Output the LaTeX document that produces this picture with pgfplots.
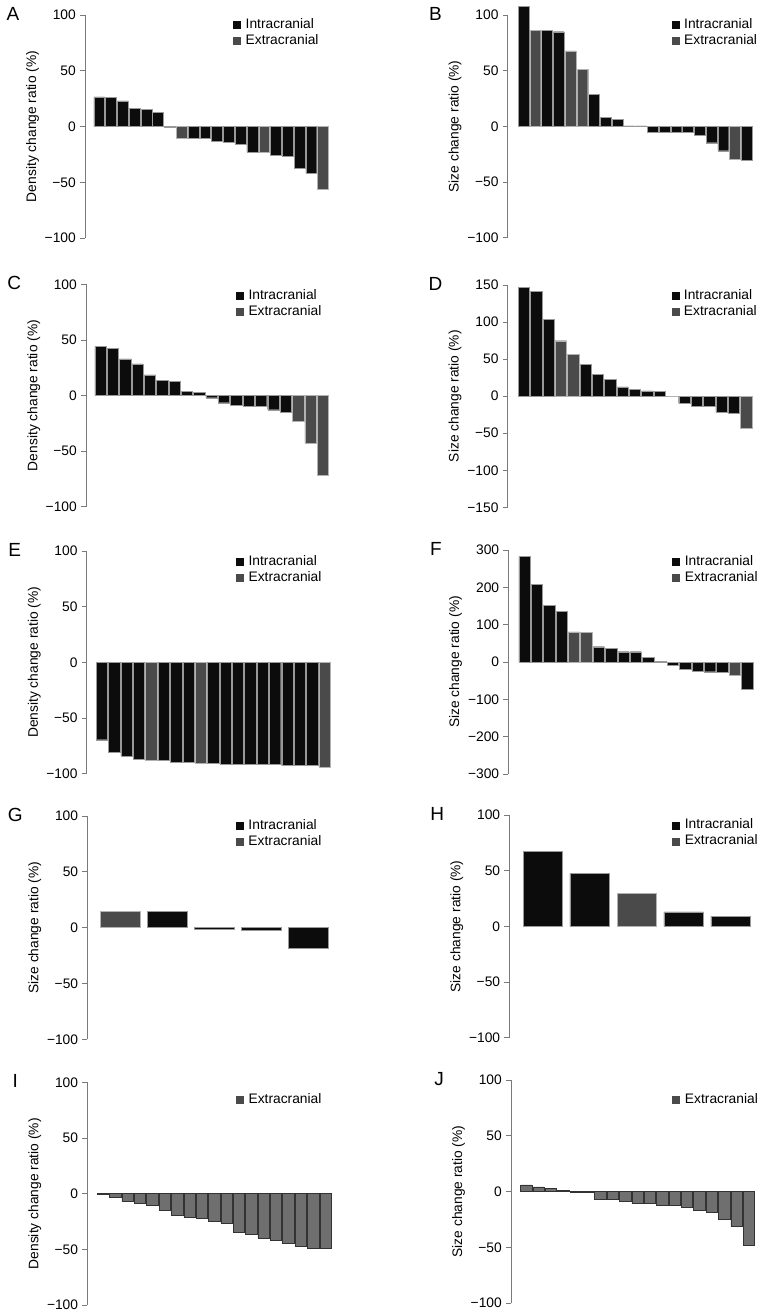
\documentclass[border=0pt]{standalone}
\usepackage{fontspec}
\setmainfont{Liberation Sans}
\usepackage{pgfplots}
\pgfplotsset{compat=1.18}
\definecolor{intra}{HTML}{0C0C0C}
\definecolor{extra}{HTML}{4A4A4A}
\definecolor{extraL}{HTML}{6F6F6F}
\definecolor{axgray}{HTML}{7A7A7A}
\newcommand\legin{\fill[intra] (0pt,-3.5pt) rectangle (7pt,3.5pt);}
\newcommand\legex{\fill[extra] (0pt,-3.5pt) rectangle (7pt,3.5pt);}
\newcommand\fnt{\fontsize{13.8}{15}\selectfont}
\pgfplotsset{
 panel/.style={
   scale only axis,
   height=223pt,
   axis x line=none,
   axis y line=left,
   axis line style={-, axgray, line width=0.8pt},
   ytick style={axgray, line width=0.8pt},
   tick align=outside,
   major tick length=5pt,
   ymin=-100, ymax=100,
   ytick={-100,-50,0,50,100},
   yticklabels={−100,−50,0,50,100},
   yticklabel style={font=\fnt, inner sep=0pt, xshift=-4pt},
   ylabel style={font=\fnt, at={(axis description cs:-0.215,0.5)}, anchor=center},
   ybar, bar width=0.92, bar shift=0pt,
   clip=false,
   legend cell align=left,
   legend style={draw=none, fill=none, inner sep=0pt, anchor=north west, font=\fnt,
     nodes={text height=10pt, text depth=3pt, inner sep=1.5pt}, row sep=0pt, column sep=3.5pt},
 },
 lin/.style={fill=intra, draw=black!40, line width=0.4pt, legend image code/.code={\legin}},
 lex/.style={fill=extra, draw=black!30, line width=0.4pt, legend image code/.code={\legex}},
 lexl/.style={fill=extraL, draw=black!80, line width=0.5pt, legend image code/.code={\legex}},
}
\newcommand\lett[1]{\node[font=\fontsize{19}{20}\selectfont, anchor=center] at (axis description cs:-0.295,1.005) {#1};}
\begin{document}
\begin{tikzpicture}
\useasboundingbox (0,0) rectangle (765pt,-1315pt);
% A
\begin{axis}[panel, at={(85pt,-238pt)}, anchor=south west, width=244pt,
  xmin=-0.204, xmax=20.5, ylabel={Density change ratio (\%)},
  legend style={at={(axis description cs:0.607,0.994)}}]
\addplot[lin] coordinates {(1,26.6) (2,26) (3,23) (4,16.5) (5,15.6) (6,12.6) (7,-0.5) (9,-10.5) (10,-10.5) (11,-13) (12,-14) (13,-16) (14,-23) (16,-26) (17,-26.5) (18,-37.7) (19,-42)};
\addplot[lex] coordinates {(8,-10.2) (15,-23) (20,-56.6)};
\legend{Intracranial,Extracranial}
\lett{A}
\end{axis}
% B
\begin{axis}[panel, at={(507.7pt,-237.7pt)}, anchor=south west, width=245pt, height=222.7pt,
  xmin=-0.351, xmax=20.5, ylabel={Size change ratio (\%)},
  legend style={at={(axis description cs:0.669,0.993)}}]
\addplot[lin] coordinates {(1,107.5) (3,86) (4,85) (7,28.7) (8,7.8) (9,6) (10,0.5) (11,0.5) (12,-5) (13,-5) (14,-5) (15,-5.5) (16,-8) (17,-14.7) (18,-21.9) (20,-30.8)};
\addplot[lex] coordinates {(2,86.5) (5,67.7) (6,51.5) (19,-29.6)};
\legend{Intracranial,Extracranial}
\lett{B}
\end{axis}
% C
\begin{axis}[panel, at={(86pt,-506.7pt)}, anchor=south west, width=243pt, height=222.4pt,
  xmin=-0.172, xmax=19.5, ylabel={Density change ratio (\%)},
  legend style={at={(axis description cs:0.617,0.985)}}]
\addplot[lin] coordinates {(1,43.9) (2,42.7) (3,33) (4,28.4) (5,18.5) (6,13.4) (7,12.5) (8,3.6) (9,2.7) (10,-2) (11,-6.5) (12,-8.4) (13,-9.5) (14,-9.5) (15,-12.8) (16,-15)};
\addplot[lex] coordinates {(17,-23) (18,-42.7) (19,-71.3)};
\legend{Intracranial,Extracranial}
\lett{C}
\end{axis}
% D
\begin{axis}[panel, at={(507.7pt,-507.3pt)}, anchor=south west, width=244.6pt, height=222.3pt,
  xmin=-0.31, xmax=19.5, ymin=-150, ymax=150, ytick={-150,-100,-50,0,50,100,150},
  yticklabels={−150,−100,−50,0,50,100,150}, ylabel={Size change ratio (\%)},
  legend style={at={(axis description cs:0.669,0.988)}}]
\addplot[lin] coordinates {(1,147.3) (2,141.4) (3,103.6) (6,43.2) (7,29.3) (8,23) (9,12.6) (10,9) (11,7.2) (12,6.3) (14,-9.9) (15,-13.5) (16,-13.5) (17,-21.6) (18,-23)};
\addplot[lex] coordinates {(4,74.8) (5,56.8) (13,-0.5) (19,-42.8)};
\legend{Intracranial,Extracranial}
\lett{D}
\end{axis}
% E
\begin{axis}[panel, at={(86.7pt,-773.7pt)}, anchor=south west, width=244pt, height=222.7pt,
  xmin=-0.228, xmax=19.5, ylabel={Density change ratio (\%)},
  legend style={at={(axis description cs:0.612,0.987)}}]
\addplot[lin] coordinates {(1,-69.5) (2,-80.8) (3,-84) (4,-87) (6,-88) (7,-89.5) (8,-89.5) (10,-90.5) (11,-91.3) (12,-91.6) (13,-91.6) (14,-91.8) (15,-91.8) (16,-92.8) (17,-92.8) (18,-92.8)};
\addplot[lex] coordinates {(5,-87.5) (9,-90.5) (19,-94)};
\legend{Intracranial,Extracranial}
\lett{E}
\end{axis}
% F
\begin{axis}[panel, at={(508.3pt,-774pt)}, anchor=south west, width=245pt, height=224pt,
  xmin=-0.308, xmax=19.5, ymin=-300, ymax=300, ytick={-300,-200,-100,0,100,200,300},
  yticklabels={−300,−200,−100,0,100,200,300}, ylabel={Size change ratio (\%)},
  legend style={at={(axis description cs:0.669,0.985)}}]
\addplot[lin] coordinates {(1,282.5) (2,208.5) (3,151.5) (4,135.5) (7,41) (8,36.5) (9,27.6) (10,27.6) (11,11.6) (12,2) (13,-9) (14,-20.5) (15,-24) (16,-26) (17,-28.5) (19,-72.2)};
\addplot[lex] coordinates {(5,81) (6,79.3) (18,-34.8)};
\legend{Intracranial,Extracranial}
\lett{F}
\end{axis}
% G
\begin{axis}[panel, at={(87.3pt,-1039.3pt)}, anchor=south west, width=244.4pt, height=223.3pt,
  xmin=0.3, xmax=5.5, bar width=0.84, ylabel={Size change ratio (\%)},
  legend style={at={(axis description cs:0.608,0.993)}}]
\addplot[lin] coordinates {(2,14.3) (3,-1) (4,-2) (5,-18.2)};
\addplot[lex] coordinates {(1,15)};
\legend{Intracranial,Extracranial}
\lett{G}
\end{axis}
% H
\begin{axis}[panel, at={(509.3pt,-1037.7pt)}, anchor=south west, width=244.7pt, height=222.7pt,
  xmin=0.287, xmax=5.5, bar width=0.84, ylabel={Size change ratio (\%)},
  legend style={at={(axis description cs:0.666,0.990)}}]
\addplot[lin] coordinates {(1,67.4) (2,47.6) (4,12.9) (5,9.3)};
\addplot[lex] coordinates {(3,29.6)};
\legend{Intracranial,Extracranial}
\lett{H}
\end{axis}
% I
\begin{axis}[panel, at={(87.3pt,-1305pt)}, anchor=south west, width=244.4pt, height=222.7pt,
  xmin=-0.26, xmax=19.5, ylabel={Density change ratio (\%)},
  legend style={at={(axis description cs:0.608,0.958)}}]
\addplot[lexl] coordinates {(1,-0.5) (2,-3.6) (3,-6.9) (4,-8.4) (5,-10.2) (6,-15) (7,-19.5) (8,-21.3) (9,-22.5) (10,-25.1) (11,-26.6) (12,-35) (13,-36.5) (14,-40) (15,-41.6) (16,-44.6) (17,-47) (18,-49.4) (19,-49.4)};
\legend{Extracranial}
\lett{I}
\end{axis}
% J
\begin{axis}[panel, at={(511pt,-1303pt)}, anchor=south west, width=244pt, height=223pt,
  xmin=-0.228, xmax=19.5, ylabel={Size change ratio (\%)},
  legend style={at={(axis description cs:0.661,0.948)}}]
\addplot[lexl] coordinates {(1,6) (2,4.2) (3,3) (4,1.2) (5,-0.5) (6,-0.5) (7,-6.6) (8,-7.2) (9,-8.7) (10,-10.8) (11,-10.8) (12,-12) (13,-12.3) (14,-14.3) (15,-16.7) (16,-18.2) (17,-24.8) (18,-31.4) (19,-47.8)};
\legend{Extracranial}
\lett{J}
\end{axis}
\end{tikzpicture}
\end{document}
